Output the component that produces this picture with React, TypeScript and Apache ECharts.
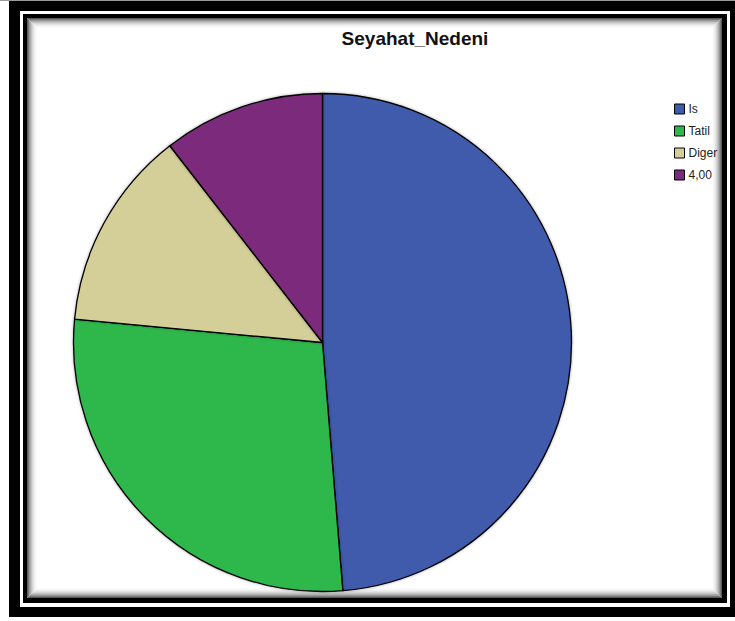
import React, { useEffect, useRef } from "react";
import * as echarts from "echarts";

const categories = ["Is", "Tatil", "Diger", "4,00"];
const values = [48.7, 27.8, 13.0, 10.5];
const colors = ["#3f5aac", "#2eb84b", "#d4cf99", "#7b2a7c"];
const titleText = "Seyahat_Nedeni";

export default function App() {
  const ref = useRef<HTMLDivElement>(null);
  useEffect(() => {
    if (!ref.current) return;
    const chart = echarts.init(ref.current, null, { renderer: "svg" });

    const frame: any[] = [
      { type: "rect", shape: { x: 0, y: 0, width: 735, height: 1 }, style: { fill: "#9a9a9a" }, silent: true },
      { type: "rect", shape: { x: 9, y: 1, width: 726, height: 616 }, style: { fill: "#000" }, silent: true },
      { type: "rect", shape: { x: 20, y: 11, width: 710, height: 596 }, style: { fill: "#fff" }, silent: true },
      { type: "rect", shape: { x: 23, y: 14, width: 704, height: 589 }, style: { fill: "#000" }, silent: true },
      { type: "rect", shape: { x: 27, y: 18, width: 695, height: 580 }, style: { fill: "#fff" }, silent: true },
    ];
    const grays = ["#5a5a5a", "#7a7a7a", "#979797", "#afafaf", "#c4c4c4", "#d6d6d6", "#e4e4e4", "#eeeeee", "#f6f6f6", "#fbfbfb"];
    grays.forEach((g, i) => {
      frame.push({
        type: "rect",
        shape: { x: 27.5 + i, y: 18.5 + i, width: 694 - 2 * i, height: 579 - 2 * i },
        style: { fill: "none", stroke: g, lineWidth: 1 },
        silent: true,
      });
    });

    chart.setOption({
      animation: false,
      backgroundColor: "#fff",
      graphic: { elements: frame },
      title: {
        text: titleText,
        left: 410,
        top: 24,
        textAlign: "center",
        textStyle: { fontFamily: "Liberation Sans", fontSize: 19, fontWeight: "bold", color: "#111" },
      },
      legend: {
        orient: "vertical",
        left: 669,
        top: 97,
        icon: "rect",
        itemWidth: 10,
        itemHeight: 10,
        itemGap: 8,
        itemStyle: { borderColor: "#000", borderWidth: 1 },
        textStyle: { fontFamily: "Liberation Sans", fontSize: 12, color: "#222", lineHeight: 14, padding: [0, 0, 0, -1] },
        data: categories,
      },
      series: [
        {
          type: "pie",
          center: [322.5, 342.5],
          radius: 249,
          startAngle: 90,
          clockwise: true,
          label: { show: false },
          labelLine: { show: false },
          emphasis: { disabled: true },
          itemStyle: { borderColor: "#000", borderWidth: 1.3, shadowBlur: 3, shadowColor: "rgba(0,0,0,0.35)" },
          data: categories.map((c, i) => ({ name: c, value: values[i], itemStyle: { color: colors[i] } })),
        },
      ],
    });
    return () => chart.dispose();
  }, []);
  return (
    <div
      ref={ref}
      style={{ position: "absolute", left: 0, top: 0, width: 735, height: 621 }}
    />
  );
}
